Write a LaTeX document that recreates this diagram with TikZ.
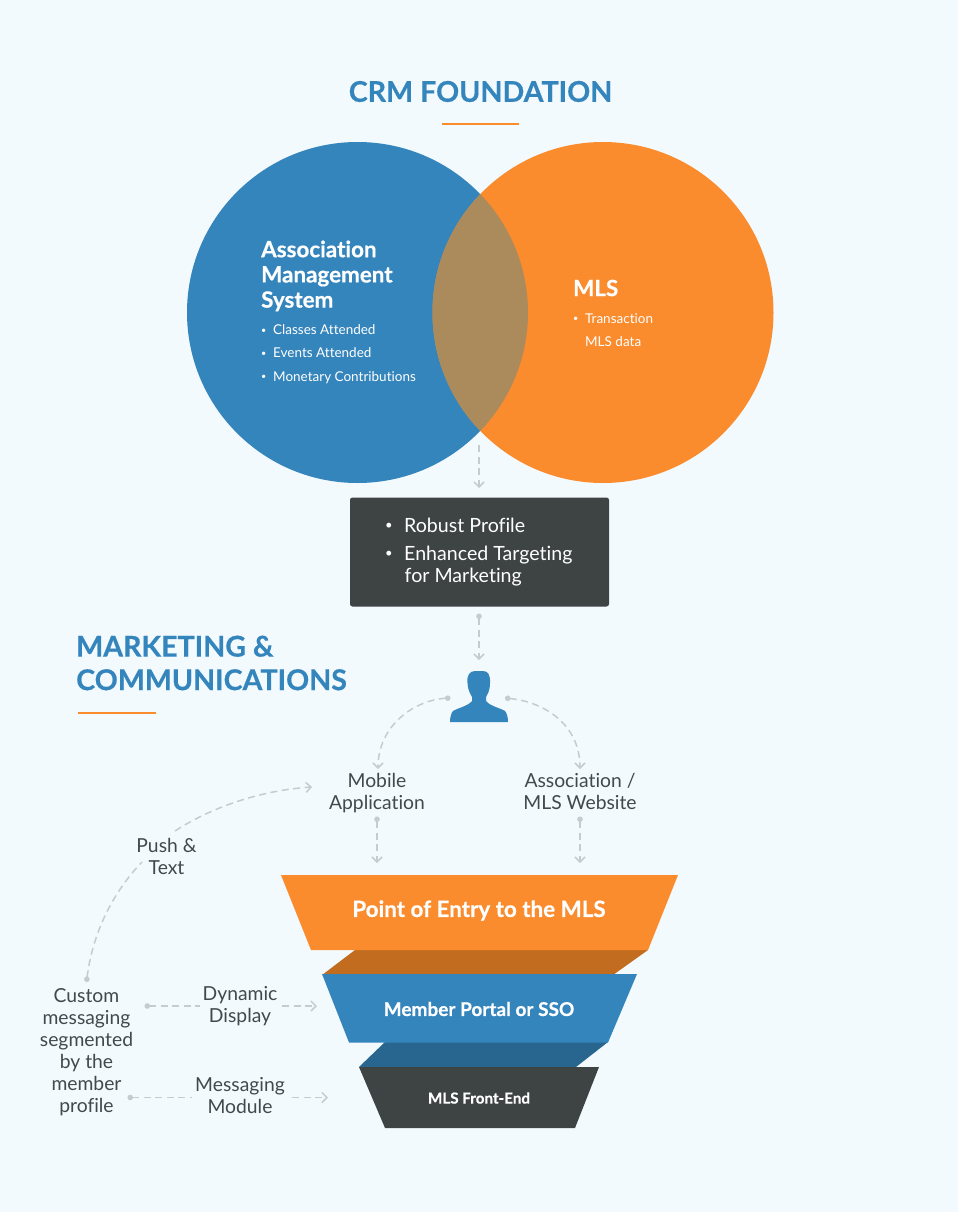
\documentclass[tikz,border=0pt]{standalone}
\usepackage{fontspec}
\setmainfont{Lato}[Ligatures=NoCommon,BoldFeatures={FakeBold=0.5}]
\usetikzlibrary{arrows.meta}
\definecolor{bg}{HTML}{F3FAFE}
\definecolor{cblue}{HTML}{3585BD}
\definecolor{corange}{HTML}{FB8C2E}
\definecolor{cmix}{HTML}{AB8B5B}
\definecolor{cdark}{HTML}{3E4444}
\definecolor{dorange}{HTML}{C26C20}
\definecolor{dblue}{HTML}{28658F}
\definecolor{cgray}{HTML}{C6CBCE}
\definecolor{ctext}{HTML}{41494C}
\newcommand{\smallbul}[1]{\makebox[#1][l]{\fontsize{9}{9}\selectfont\raisebox{1.5pt}{•}}}
\newcommand{\bigbul}{\makebox[19pt][l]{\fontsize{13}{13}\selectfont\raisebox{2.5pt}{•}}}
\tikzset{
  conn/.style={draw=cgray,line width=1.5pt,dash pattern=on 7pt off 4.5pt,
    -{Straight Barb[length=5pt,width=10pt,line width=1.5pt,color=cgray]}},
  connd/.style={conn,{Circle[length=5.5pt,width=5.5pt,color=cgray]}-{Straight Barb[length=5pt,width=10pt,line width=1.5pt,color=cgray]}},
  connl/.style={draw=cgray,line width=1.5pt,dash pattern=on 7pt off 4.5pt},
  lbl/.style={text=ctext,font=\fontsize{19.3}{22}\selectfont,align=center,inner sep=0pt},
  wlbl/.style={text=white,align=left,inner sep=0pt,anchor=west},
  head/.style={text=cblue,font=\fontsize{28.6}{33.5}\selectfont\bfseries,inner sep=0pt,align=left},
  rule/.style={draw=corange,line width=1.6pt}
}
\begin{document}
\begin{tikzpicture}[x=1pt,y=-1pt]
\path[use as bounding box,fill=bg] (0,0) rectangle (958,1212);
% Titles
\node[head,anchor=center] (t1) at (480.5,91.5) {CRM FOUNDATION};
\coordinate (r1a) at (442,124); \coordinate (r1b) at (519,124);
\draw[rule] (r1a) -- (r1b);
\node[head,anchor=west] (t2) at (76,663) {MARKETING \&\\COMMUNICATIONS};
\coordinate (r2a) at (78,713); \coordinate (r2b) at (156,713);
\draw[rule] (r2a) -- (r2b);
% Venn
\fill[cblue] (357.5,312.5) circle[radius=170.5];
\fill[corange] (603,312.5) circle[radius=170.5];
\begin{scope}
\clip (357.5,312.5) circle[radius=170.5];
\fill[cmix] (603,312.5) circle[radius=170.5];
\end{scope}
\node[wlbl,font=\fontsize{22.4}{25.2}\selectfont\bfseries] (ams) at (261,276) {Association\\Management\\System};
\node[wlbl,font=\fontsize{13.5}{23.2}\selectfont] (amsl) at (261,354) {\smallbul{12pt}Classes Attended\\\smallbul{12pt}Events Attended\\\smallbul{12pt}Monetary Contributions};
\node[wlbl,font=\fontsize{22.4}{25}\selectfont\bfseries] (mls) at (573,288) {MLS};
\node[wlbl,font=\fontsize{13.5}{23.2}\selectfont] (mlsl) at (573,330) {\smallbul{12pt}Transaction\\\hspace*{12pt}MLS data};
% Profile box
\node[fill=cdark,rounded corners=2.5pt,minimum width=259pt,minimum height=109pt,inner sep=0pt] (box) at (479.5,552) {};
\node[wlbl,font=\fontsize{19.6}{22}\selectfont] (boxt) at (385,552) {\bigbul Robust Profile\\[6pt]\bigbul Enhanced Targeting\\\hspace*{19.5pt}for Marketing};
% Person
\node[fill=none,inner sep=0pt,minimum width=58pt,minimum height=51pt] (person) at (479,696.5) {};
\fill[cblue] (467.5,683) .. controls (466.5,675) and (470,671) .. (475,671) -- (483,671)
 .. controls (488,671) and (490.5,675) .. (490,683)
 .. controls (490,691) and (487.5,694) .. (486,697) -- (486,701)
 .. controls (490,706) and (500,708) .. (505,711) .. controls (507,713) and (508,718) .. (508,722)
 -- (450,722) .. controls (450,718) and (451,713) .. (453,711)
 .. controls (458,708) and (468,706) .. (472,701) -- (472,697)
 .. controls (470.5,694) and (468,691) .. (467.5,683) -- cycle;
% Labels
\node[lbl] (mobile) at (377,793.5) {Mobile\\Application};
\node[lbl] (web) at (580,791.5) {Association /\\MLS Website};
\node[lbl] (push) at (166.5,856.5) {Push \&\\Text};
\node[lbl] (custom) at (86.5,1052) {Custom\\messaging\\segmented\\by the\\member\\profile};
\node[lbl] (dyn) at (240,1006) {Dynamic\\Display};
\node[lbl] (msg) at (240,1096) {Messaging\\Module};
% Funnel
\fill[dorange] (322,975) -- (355,950) -- (648,950) -- (613,975) -- cycle;
\fill[dblue] (359,1067) -- (385,1042) -- (608,1042) -- (576,1067) -- cycle;
\fill[corange] (281,875) -- (678,875) -- (648,950) -- (311,950) -- cycle;
\fill[cblue] (322,974) -- (637,974) -- (608,1042.5) -- (349,1042.5) -- cycle;
\fill[cdark] (359,1067) -- (599,1067) -- (575,1128) -- (385,1128) -- cycle;
\node[text=white,font=\fontsize{22.4}{24}\selectfont\bfseries,inner sep=0pt] (f1) at (479,910.5) {Point of Entry to the MLS};
\node[text=white,font=\fontsize{19}{21}\selectfont\bfseries,inner sep=0pt] (f2) at (479,1009) {Member Portal or SSO};
\node[text=white,font=\fontsize{15.2}{17}\selectfont\bfseries,inner sep=0pt] (f3) at (479,1098) {MLS Front-End};
% Connector ends
\coordinate (a1) at (479,445); \coordinate (a2) at (479,488);
\coordinate (b1) at (479,613.5); \coordinate (b2) at (479,660);
\coordinate (c1) at (450.5,698); \coordinate (c2) at (378,769);
\coordinate (d1) at (505,698); \coordinate (d2) at (580,769);
\coordinate (e1) at (377,816.5); \coordinate (e2) at (377,863);
\coordinate (g1) at (580,816.5); \coordinate (g2) at (580,863);
\coordinate (h1) at (86.5,982); \coordinate (h2) at (142,862);
\coordinate (h3) at (175,831); \coordinate (h4) at (312,787);
\coordinate (i1) at (144.5,1006); \coordinate (i2) at (200,1006);
\coordinate (i3) at (282,1006); \coordinate (i4) at (317,1006);
\coordinate (j1) at (127.5,1097.5); \coordinate (j2) at (192,1097.5);
\coordinate (j3) at (292,1097.5); \coordinate (j4) at (328,1097.5);
\draw[conn] (a1) -- (a2);
\draw[connd] (b1) -- (b2);
\draw[connd] (c1) .. controls (415,700) and (378,725) .. (c2);
\draw[connd] (d1) .. controls (545,702) and (580,725) .. (d2);
\draw[connd] (e1) -- (e2);
\draw[connd] (g1) -- (g2);
\draw[connl,{Circle[length=5.5pt,width=5.5pt,color=cgray]}-] (h1) .. controls (93,930) and (115,890) .. (h2);
\draw[conn] (h3) .. controls (215,805) and (265,790) .. (h4);
\draw[connl,{Circle[length=5.5pt,width=5.5pt,color=cgray]}-] (i1) -- (i2);
\draw[conn] (i3) -- (i4);
\draw[connl,{Circle[length=5.5pt,width=5.5pt,color=cgray]}-] (j1) -- (j2);
\draw[conn] (j3) -- (j4);
\end{tikzpicture}
\end{document}
